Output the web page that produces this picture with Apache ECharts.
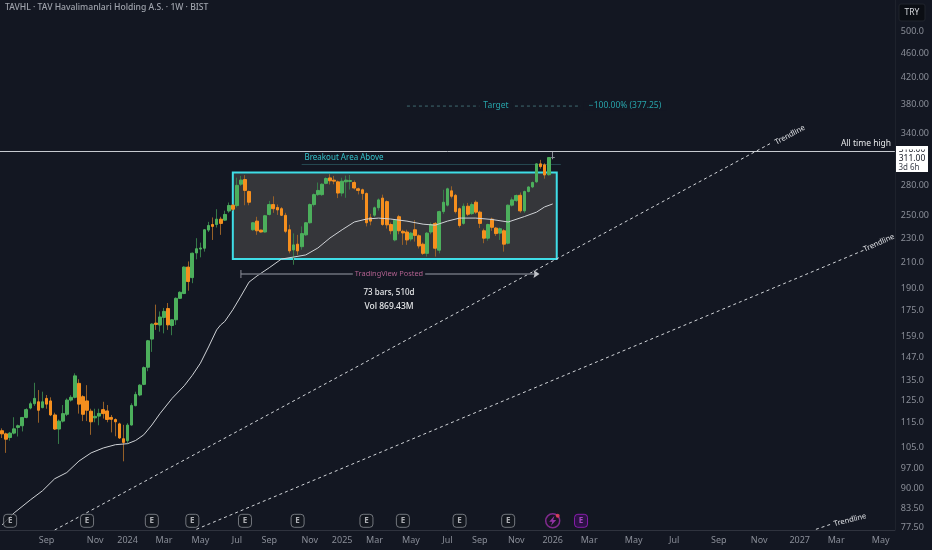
<!DOCTYPE html>
<html><head><meta charset="utf-8">
<style>html,body{margin:0;padding:0;background:#131722}#c{width:932px;height:550px}</style>
<script src="https://cdn.jsdelivr.net/npm/echarts@6/dist/echarts.min.js"></script>
</head><body><div id="c"></div>
<script>
const title = 'TAVHL · TAV Havalimanlari Holding A.S. · 1W · BIST';
const priceTicks = [500,460,420,380,340,280,250,230,210,190,175,159,147,135,125,115,105,97,90,83.5,77.5];
const priceTickText = ['500.0','460.00','420.00','380.00','340.00','280.00','250.00','230.0','210.0','190.0','175.0','159.0','147.0','135.0','125.0','115.0','105.0','97.00','90.00','83.50','77.50'];
const timeTickIndex = [11,23,31,40,49,58,66,76,84,92,101,110,118,127,136,145,156,166,177,187,197,206,217];
const timeTickText = ['Sep','Nov','2024','Mar','May','Jul','Sep','Nov','2025','Mar','May','Jul','Sep','Nov','2026','Mar','May','Jul','Sep','Nov','2027','Mar','May'];
// [open, close, low, high] for each weekly bar
const candles = [
[111.6,110.3,108.6,112.6],[110.3,108.1,102.7,110.8],[108.8,110.6,107.5,111.1],[110.6,112.4,110.1,117.4],[113,113.7,109.2,114.2],
[113.7,117.3,111.3,117.4],[117.3,120.8,116.9,121.4],[121.5,123.5,120.9,124.5],[123.5,126,122.5,133.6],[124.4,120.5,115,130],
[121.7,124.4,121.4,129.2],[126,123.3,121.2,127.6],[124.8,118.4,117.9,126.5],[118.4,112.3,111.9,119.4],[112.3,115.7,106.2,116.4],
[115.7,119,115.1,122.9],[118.7,125.2,117.9,126],[125.2,126.5,124.5,127.5],[126.5,137.1,126,138.4],[133.3,123.3,119,135.4],
[126.8,118.7,115.7,127.5],[124.8,120.5,115.7,132.4],[120.1,115.4,109.9,121.2],[117.1,117.8,115.2,121.2],[117.9,119.1,113.9,121.2],
[120.8,119,116.8,124.4],[120.2,116.4,115.2,122.9],[117.3,116.5,110.9,118.4],[116.4,115.4,109.3,116.9],[114.5,108.6,108.2,115],
[108.3,106.8,99.5,114.1],[107.5,114,106.4,114.8],[114,122.7,113.8,123.7],[122.6,127.9,122.3,129.2],[127.6,132.4,127,132.9],
[132.8,141.4,132.4,142],[141.6,156.4,139.5,156.9],[157.4,166.5,150,167],[167.1,166.3,162.9,179.1],[165.9,171,161.8,174.6],
[170.7,174.6,160.8,176.9],[176.5,166,162.9,180.2],[165.6,169.2,159.7,169.5],[169.2,183.4,166,184],[183.4,187.6,182.9,188.3],
[186.7,206.2,186.3,206.8],[206.2,195.3,188.7,210.6],[198.2,217.2,194.1,217.7],[217.4,220.9,212.3,229.8],[220.6,221.5,213.9,226],
[221.3,237.2,218.5,237.7],[236.9,241,235.2,244.3],[241.9,240.2,228.3,248.4],[241.9,246.8,239.2,256.2],[246.8,242.9,232.7,249],
[245.9,251.2,245.2,254.8],[254.5,259.8,252.8,262.7],[260.1,256.2,254.8,260.8],[259.7,280.2,257.8,288.4],[281.4,285.8,279.6,290.3],
[286.4,274.9,260,291.1],[273.8,263,260,274.8],[237.2,243.5,236.2,244.2],[245,236.3,232.7,249],[236.9,235.2,234.7,237.2],
[235.2,250,234.7,250.8],[251.2,260.7,250.2,264.3],[260.7,256.7,252.7,268.9],[257.9,255.5,250.8,260.8],[256.7,250.4,249.7,258.3],
[250.4,235.8,234.2,252.8],[237.2,219.1,217.1,241.7],[219.9,224.1,208,234],[224.7,219.1,215.8,232.7],[222.6,233.8,220.1,240.2],
[232.7,243.5,231.7,244.2],[243.5,260.7,242.7,261.8],[260.7,270.6,258.8,271.8],[270.6,274.9,269.3,283.2],[270.6,281.4,269.3,282.3],
[282.3,287.5,281.3,288.8],[288.1,285,281.1,292.2],[285.7,284.6,281.3,290.3],[283.9,272.2,267.1,285.3],[272.2,284.6,268.9,288.3],
[283.9,285.7,267.4,290.6],[284.3,285.3,275.8,291.3],[283.2,277.4,275.8,285.3],[276.6,274.9,270.8,277.8],[275.6,271.8,265.3,276.8],
[271.8,243.5,240.2,272.8],[248.1,245,241.2,251.8],[250.5,257.6,248.7,258.8],[257.6,265.3,254.8,266.8],[267.1,241.9,240.7,270.6],
[263.6,241.6,238.2,264.8],[241.9,236.3,233.2,243.7],[228.3,245.9,227.1,246.7],[249.1,236.3,233.2,250.8],[235.8,234.4,224.1,237.2],
[235.2,228.3,224.1,237.2],[229.1,234.2,227.1,235.2],[237.2,232.2,226.9,245.9],[231.9,223.2,221.1,233.2],[224.7,217.1,215.8,226.1],
[217.1,234.2,214.5,235.2],[235.2,241.9,233.2,243.7],[242.9,221.3,214.5,244.2],[219.7,253.9,217.1,254.8],[253.9,263,251.8,275.6],
[260.1,276.6,258.8,277.8],[274.5,268.9,266.8,279.2],[269.9,253.9,252.2,271.3],[256.7,241,239.2,257.8],[242.9,259.1,241.7,261.8],
[259.1,251.4,249.7,262.3],[252,260.7,250.8,262.8],[263,253.4,251.8,264.8],[253.4,242.9,238.7,254.8],[236.3,229.8,225.5,238.2],
[229.8,241.9,227.6,242.7],[246.8,239.4,236.2,248.2],[238.7,233.8,231.7,239.7],[234.2,238.1,228.3,239.2],[236.3,224.7,218.5,237.7],
[225.5,260.1,224.6,260.8],[260.1,265.3,258.8,267.8],[264.6,269.7,263.3,270.8],[269.9,254.6,252.8,272.8],[254.6,273.8,252.8,274.8],
[273.8,278.5,272.8,279.3],[278.5,283.2,277.3,284.3],[283.9,303.7,282.8,304.3],[303.7,300.6,298.3,308.3],[302.6,291.3,287.3,304.3],
[291.6,311,290.5,311.5],[311,311,309,318]
];
const maIndex = [0,3,7,10,13,16,19,22,25,28,31,33,35,37,39,42,45,47,49,51,53,54,55,57,59,61,63,66,69,72,75,78,81,84,87,90,93,96,100,104,107,110,113,117,121,125,129,132,134,136];
const maValue = [78.4,82,86.1,89.1,93.2,95.4,99.6,102.7,104.6,105.9,106.3,107.6,109.9,114,119,126,132.1,137.4,143.8,152.8,162.9,166,168.1,175.7,184.9,194.9,199.5,205.7,212.5,214.1,215.8,221.5,230,237.2,244.2,246.9,247.8,246.9,245,242.2,241.3,245,247.8,247.8,246.5,244.2,249.2,253.4,258.4,261.3];
const trendA = [[13,76.9],[190,328.5]];
const trendB = [[48,77.1],[213,219.9]];
const trendC = [[201,77.1],[205,78.7]];
const allTimeHigh = 318;
const lastPrice = 311;
const targetPrice = 377.25;
const boxBars = [57,137];
const boxPrices = [212.6,293.9];
const measureBars = [59,132];
const measurePrice = 200.9;
const breakoutBars = [74,138];
const breakoutPrice = 303;
const earningsIndex = [2,21,37,47,60,73,90,99,113,125];
const upcomingEarningsIndex = [143];
const dividendIndex = [136];
const markerPrice = 79.6;

const BG = '#131722', GREEN = '#4caf5c', ORANGE = '#f58f1e', CYAN = '#3fdde6', TEAL = '#27a3aa';
const font = '"Noto Sans", sans-serif';
const categories = Array.from({length:221}, () => '');
timeTickIndex.forEach((i, k) => { categories[i] = timeTickText[k]; });
const tickLabelOf = new Map(priceTicks.map((p, k) => [p, priceTickText[k]]));
const candleBodies = candles.map(([o,c]) => [o, c, Math.min(o,c), Math.max(o,c)]);

const lineSeries = (data, color, extra) => Object.assign({
  type:'line', data, symbol:'none', silent:true, animation:false,
  lineStyle:{color, width:1}, z:3
}, extra || {});
const txt = (text, x, y, fill, size, opt) => Object.assign({
  type:'text', x, y, z:50, silent:true,
  style:Object.assign({text, fill, font:(opt&&opt.weight||'normal')+' '+size+'px '+font, align:'center', verticalAlign:'middle'}, opt&&opt.style||{})
}, opt&&opt.el||{});

const chart = echarts.init(document.getElementById('c'), null, {renderer:'canvas'});
chart.setOption({
  animation:false, backgroundColor:BG,
  grid:{left:0, top:0, right:37, bottom:20},
  xAxis:{type:'category', data:categories, boundaryGap:true,
    axisLine:{lineStyle:{color:'#2f333e'}}, axisTick:{show:false}, splitLine:{show:false},
    axisLabel:{color:'#8a8e98', fontSize:9, fontFamily:font, margin:6, interval:(i, v) => v !== '', hideOverlap:false}},
  yAxis:{type:'log', position:'right', min:76.9, max:561.6, logBase:10,
    axisLine:{show:true, lineStyle:{color:'#1e222c'}}, axisTick:{show:false}, splitLine:{show:false}, minorSplitLine:{show:false},
    axisLabel:{color:'#8a8e98', fontSize:9, fontFamily:font, margin:6, padding:[2,0,0,0], customValues:priceTicks,
      formatter:v => { for (const [p,t] of tickLabelOf) if (Math.abs(p-v) < 0.01) return t; return ''; }}},
  series:[
    {type:'candlestick', data:candles, barWidth:1, z:4, silent:true,
      itemStyle:{color:'#367a49', color0:'#966028', borderColor:'#367a49', borderColor0:'#966028', borderColorDoji:'#8a8f99', borderWidth:1},
      markArea:{silent:true, itemStyle:{color:'rgba(68,68,68,0.7)', borderColor:CYAN, borderWidth:2},
        data:[[{xAxis:boxBars[0], yAxis:boxPrices[1]},{xAxis:boxBars[1], yAxis:boxPrices[0]}]]},
      markLine:{silent:true, symbol:'none', label:{show:false}, lineStyle:{color:'#c7cad0', width:1, type:'solid'}, data:[{yAxis:allTimeHigh}]}},
    {type:'candlestick', data:candleBodies, barWidth:3.2, z:4, silent:true,
      itemStyle:{color:GREEN, color0:ORANGE, borderColor:GREEN, borderColor0:ORANGE, borderColorDoji:'#8a8f99', borderWidth:1}},
    lineSeries(maIndex.map((x,k) => [x, maValue[k]]), '#cfd2d6', {z:5}),
    lineSeries(trendA, '#d3d6da', {lineStyle:{color:'#d3d6da', width:1, type:[3,3]}}),
    lineSeries(trendB, '#d3d6da', {lineStyle:{color:'#d3d6da', width:1, type:[3,3]}}),
    lineSeries(trendC, '#d3d6da', {lineStyle:{color:'#d3d6da', width:1, type:[3,3]}}),
    lineSeries([[breakoutBars[0],breakoutPrice],[breakoutBars[1],breakoutPrice]], '#274a52'),
    lineSeries([[100,targetPrice],[143,targetPrice]], '#3f6a70', {lineStyle:{color:'#3f6a70', width:1, type:[3,3]}}),
    lineSeries([
      {value:[measureBars[0],measurePrice], symbol:'rect', symbolSize:[1,8], itemStyle:{color:'#8a8e98'}},
      {value:[measureBars[1],measurePrice], symbol:'path://M0,0L6,4L0,8L1,4Z', symbolSize:[6,8], symbolKeepAspect:false, itemStyle:{color:'#c0c3c9'}}
    ], '#6e727c', {showSymbol:true, showAllSymbol:true, lineStyle:{color:'#6e727c', width:1.5}, z:6}),
    {type:'scatter', data:earningsIndex.map(i => [i, markerPrice]), symbol:'roundRect', symbolSize:13, silent:true, z:8,
      itemStyle:{color:'#14181f', borderColor:'#8b8e95', borderWidth:1},
      label:{show:true, position:'inside', formatter:'E', color:'#d4d6da', fontSize:8, fontWeight:'bold', fontFamily:font}},
    {type:'scatter', data:upcomingEarningsIndex.map(i => [i, markerPrice]), symbol:'roundRect', symbolSize:13, silent:true, z:8,
      itemStyle:{color:'#33124d', borderColor:'#a21fc9', borderWidth:1},
      label:{show:true, position:'inside', formatter:'E', color:'#c554e0', fontSize:8, fontWeight:'bold', fontFamily:font}},
    {type:'scatter', data:dividendIndex.map(i => [i, markerPrice]), symbol:'circle', symbolSize:14, silent:true, z:8,
      itemStyle:{color:'#1a1424', borderColor:'#9a2fa8', borderWidth:1.5}},
    {type:'scatter', data:dividendIndex.map(i => [i, markerPrice]), symbol:'path://M6,0L0,7L3.5,7L2,12L8,5L4.5,5Z', symbolSize:[7,10], silent:true, z:9,
      itemStyle:{color:'#b23bc4'}},
    {type:'scatter', data:dividendIndex.map(i => [i, markerPrice]), symbol:'circle', symbolSize:4, symbolOffset:[5,-5], silent:true, z:10,
      itemStyle:{color:'#f0435a'}}
  ],
  graphic:[
    txt(title, 5, 8, '#9ea2ab', 8.6, {weight:500, style:{align:'left'}}),
    txt('Breakout Area Above', 344, 158, '#35c4cc', 8),
    txt('Target', 496, 106, TEAL, 8.5, {style:{backgroundColor:BG, padding:[0,4]}}),
    txt('−100.00% (377.25)', 625, 106, TEAL, 8.5, {style:{backgroundColor:BG, padding:[0,5]}}),
    txt('TradingView Posted', 389, 274, '#b0608f', 7.4, {style:{backgroundColor:BG, padding:[0,2]}}),
    txt('73 bars, 510d', 389, 293, '#e6e8ea', 8, {weight:500}),
    txt('Vol 869.43M', 389, 307, '#e6e8ea', 8.5, {weight:500}),
    txt('All time high', 866, 144, '#e6e8ea', 8.5),
    txt('Trendline', 790, 135, '#e0e2e6', 7.5, {el:{rotation:0.49}}),
    txt('Trendline', 879, 243, '#e0e2e6', 7.5, {el:{rotation:0.42}}),
    txt('Trendline', 850, 520, '#e0e2e6', 7.5, {el:{rotation:0.25}}),
    {type:'rect', z:50, silent:true, shape:{x:899,y:4,width:26,height:17,r:2}, style:{fill:'#0b0e14', stroke:'#20242d', lineWidth:1}},
    txt('TRY', 912, 12.5, '#d8dade', 8.5),
    {type:'rect', z:51, silent:true, shape:{x:896,y:146,width:32,height:26}, style:{fill:'#ffffff'}},
    txt('318.00', 912, 150, '#131722', 8.5, {el:{z:52}}),
    {type:'rect', z:53, silent:true, shape:{x:896,y:146,width:32,height:3.5}, style:{fill:'#ffffff'}},
    txt('311.00', 912, 158.5, '#131722', 8.5, {el:{z:54}}),
    txt('3d 6h', 909, 167.5, '#3a3f4a', 8, {el:{z:54}})
  ]
});
</script></body></html>
